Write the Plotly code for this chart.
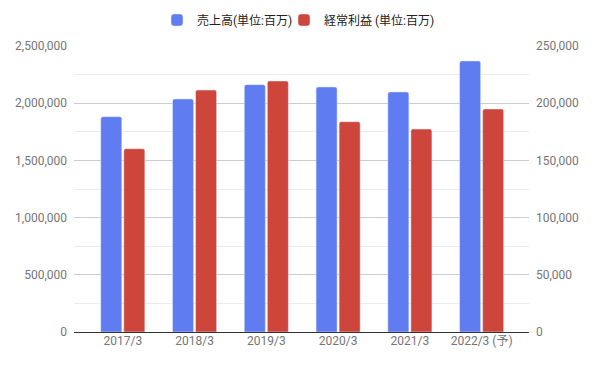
import plotly.graph_objects as go

categories = ["2017/3", "2018/3", "2019/3", "2020/3", "2021/3", "2022/3 (予)"]
sales = [1882000, 2037000, 2162000, 2142000, 2098000, 2369000]
ordinary_profit = [160200, 211500, 219400, 183800, 177400, 194900]
sales_name = "売上高(単位:百万)"
profit_name = "経常利益 (単位:百万)"
left_ticks = [0, 500000, 1000000, 1500000, 2000000, 2500000]
right_ticks = [0, 50000, 100000, 150000, 200000, 250000]

BLUE = "#5f7cf0"
RED = "#cd453b"
FONT = "Roboto, 'Noto Sans CJK JP', Arial, sans-serif"

fig = go.Figure()
fig.add_trace(go.Bar(x=categories, y=sales, name=sales_name, marker_color=BLUE,
                     width=0.293, offset=-0.307, yaxis="y", legend="legend"))
fig.add_trace(go.Bar(x=categories, y=ordinary_profit, name=profit_name, marker_color=RED,
                     width=0.293, offset=0.014, yaxis="y2", legend="legend2"))

legend_common = dict(orientation="h", yref="container", xref="container",
                     y=1 - 20 / 368, yanchor="middle", xanchor="left",
                     bgcolor="rgba(0,0,0,0)",
                     font=dict(size=12, color="#222222"), itemwidth=30)

fig.update_layout(
    width=597, height=368,
    margin=dict(l=74, r=68, t=46, b=36, autoexpand=False),
    paper_bgcolor="white", plot_bgcolor="white",
    font=dict(family=FONT, size=12, color="#757575"),
    barcornerradius=2,
    showlegend=True,
    legend=dict(legend_common, x=157 / 597),
    legend2=dict(legend_common, x=284 / 597),
    xaxis=dict(range=[-0.68, 5.66], showgrid=False, ticks="", showline=False,
               tickfont=dict(size=12, color="#757575"), fixedrange=True,
               automargin=False),
    yaxis=dict(range=[0, 2500000], tickvals=left_ticks,
               ticktext=[f"{v:,}" for v in left_ticks],
               gridcolor="#cccccc", gridwidth=1,
               minor=dict(dtick=250000, tick0=0, showgrid=True, gridcolor="#ebebeb"),
               zeroline=True, zerolinecolor="#333333", zerolinewidth=1,
               ticks="", ticklabelstandoff=6, automargin=False,
               tickfont=dict(size=12, color="#757575")),
    yaxis2=dict(range=[0, 250000], tickvals=right_ticks,
                ticktext=[f"{v:,}" for v in right_ticks],
                overlaying="y", side="right", showgrid=False, zeroline=False,
                ticks="", ticklabelstandoff=6, automargin=False,
                tickfont=dict(size=12, color="#757575")),
)

fig.write_html("out.html", config={"displayModeBar": False},
               post_script="document.body.style.margin='0';")
